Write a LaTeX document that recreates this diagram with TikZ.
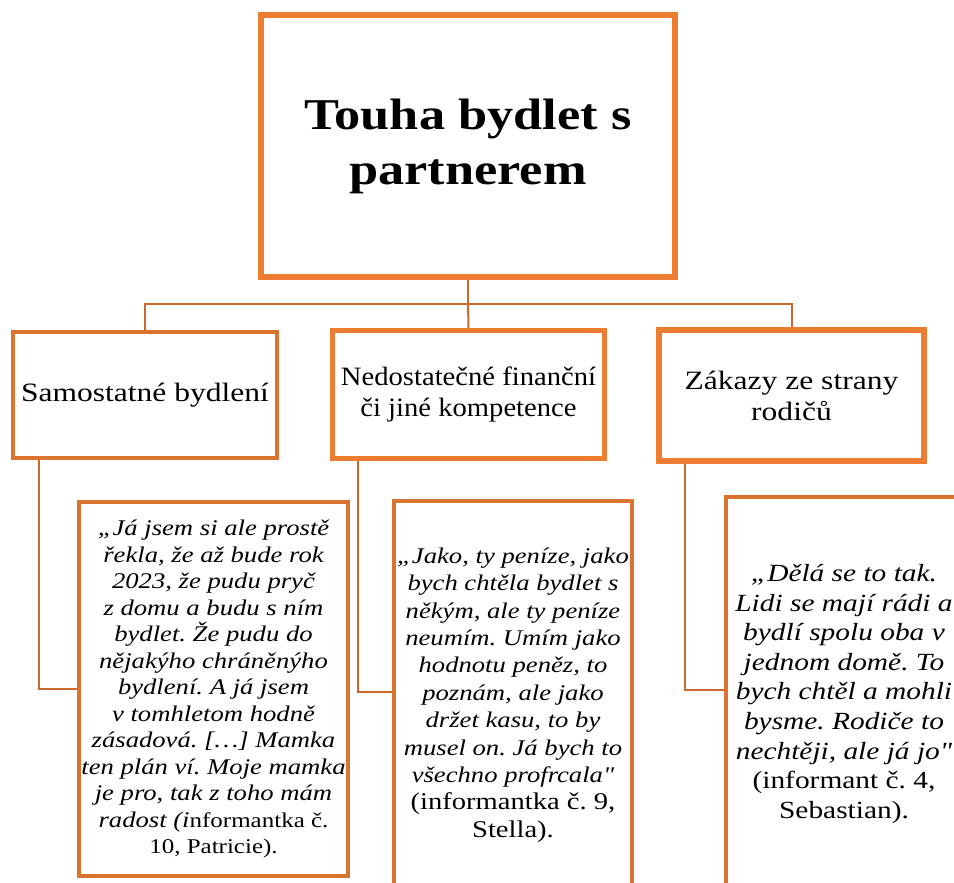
\documentclass[tikz,border=0pt]{standalone}
\usepackage{fontspec}
\setmainfont{Liberation Serif}[FakeStretch=1.19,Ligatures=TeXOff]
\newfontfamily\narrowserif{Liberation Serif}[FakeStretch=1.08,Ligatures=TeXOff]
\usetikzlibrary{positioning}
\definecolor{boxorange}{HTML}{ED7D31}
\definecolor{dimorange}{HTML}{DA7330}
\definecolor{linkorange}{HTML}{C96A2C}
\frenchspacing
\newcommand{\srcfont}[1]{\upshape\fontsize{#1}{\baselineskip}\selectfont}
\tikzset{
    titlesty/.style={draw=boxorange,line width=6pt,rectangle,align=center,
        minimum width=414pt,minimum height=262pt,
        font=\fontsize{44}{55}\selectfont\bfseries},
    catsty/.style={draw=boxorange,rectangle,align=center,inner sep=2pt,
        font=\fontsize{26.5}{31}\selectfont},
    quotesty/.style={draw=dimorange,line width=4pt,rectangle,align=center,
        inner sep=0pt,font=\fontsize{22.4}{26.5}\selectfont\itshape},
    linksty/.style={draw=linkorange,line width=2pt},
}

\begin{document}
\begin{tikzpicture}[x=1pt,y=-1pt]
  \clip (0,0) rectangle (954,883);

  % main topic
  \node[titlesty] (touha) at (468,146) {Touha bydlet s\\partnerem};

  % categories
  \node[catsty,draw=dimorange,line width=4pt,minimum width=264pt,minimum height=126pt]
       (samo) at (145,395) {Samostatné bydlení};
  \node[catsty,line width=5pt,minimum width=272pt,minimum height=128pt,
        font=\fontsize{26.5}{31}\narrowserif]
       (nedo) at (468.5,394.5) {Nedostatečné finanční\\či jiné kompetence};
  \node[catsty,line width=6pt,minimum width=265pt,minimum height=131pt]
       (zakaz) at (791.5,395.5) {Zákazy ze strany\\rodičů};

  % quotes
  \node[quotesty,minimum width=269pt,minimum height=374pt] (samoq) at (213.5,689)
  {„Já jsem si ale prostě\\řekla, že až bude rok\\2023, že pudu pryč\\z domu a budu s ním\\bydlet. Že pudu do\\nějakýho chráněnýho\\bydlení. A já jsem\\v tomhletom hodně\\zásadová. […] Mamka\\ten plán ví. Moje mamka\\je pro, tak z toho mám\\radost (i\srcfont{21}nformantka č.\\\srcfont{21}10, Patricie).};
  \node[quotesty,minimum width=238pt,minimum height=388pt,
        font=\fontsize{22.4}{27.4}\selectfont\itshape] (nedoq) at (513,695)
  {„Jako, ty peníze, jako\\bych chtěla bydlet s\\někým, ale ty peníze\\neumím. Umím jako\\hodnotu peněz, to\\poznám, ale jako\\držet kasu, to by\\musel on. Já bych to\\všechno profrcala"\\\srcfont{24}(informantka č. 9,\\\srcfont{24}Stella).};
  \node[quotesty,minimum width=236pt,minimum height=394pt,
        font=\fontsize{24.7}{29.6}\selectfont\itshape] (zakazq) at (844,694)
  {„Dělá se to tak.\\Lidi se mají rádi a\\bydlí spolu oba v\\jednom domě. To\\bych chtěl a mohli\\bysme. Rodiče to\\nechtěji, ale já jo"\\\upshape (informant č. 4,\\\upshape Sebastian).};

  % connectors
  \coordinate (bus) at (468,304);
  \draw[linksty] (touha.south) -- (bus);
  \draw[linksty] (samo.north) |- (bus) -| (zakaz.north);
  \draw[linksty] (bus) -- (nedo.north);
  \draw[linksty] ([xshift=28]samo.south west) |- (samoq.west);
  \draw[linksty] ([xshift=28]nedo.south west) |- ([yshift=3]nedoq.west);
  \draw[linksty] ([xshift=29]zakaz.south west) |- ([yshift=4]zakazq.west);
\end{tikzpicture}
\end{document}
